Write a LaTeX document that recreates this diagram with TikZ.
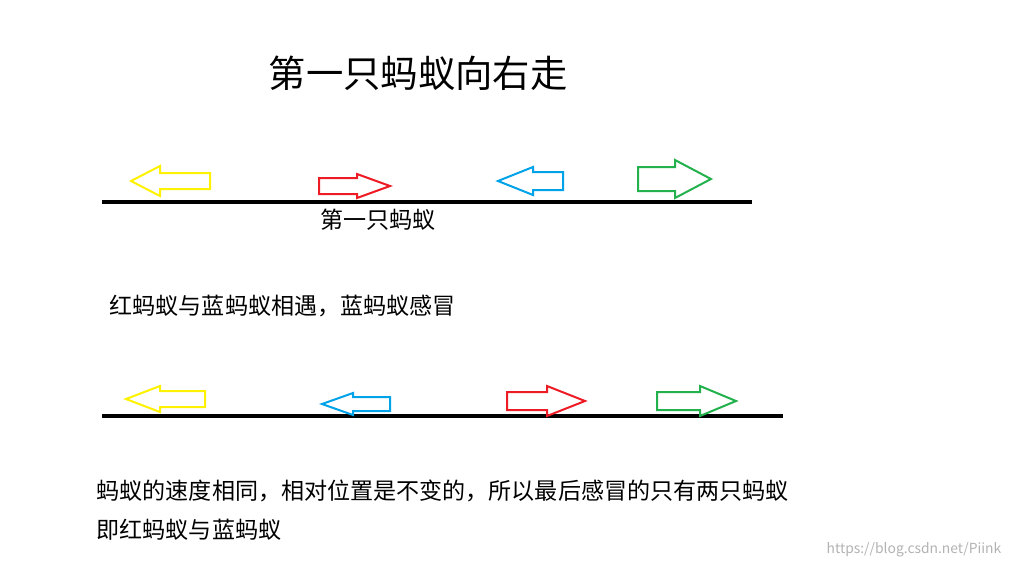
\documentclass[tikz,border=0pt]{standalone}
\usepackage{fontspec}
\setmainfont{Noto Sans CJK SC}
\definecolor{antyellow}{RGB}{255,242,0}
\definecolor{antred}{RGB}{237,28,36}
\definecolor{antblue}{RGB}{0,162,232}
\definecolor{antgreen}{RGB}{34,177,76}
\tikzset{antarrow/.style={line width=1.5pt,line join=miter}}
% block arrow: colour, tip x, mid y, neck x, tail x, body half, head half
\newcommand{\blockarrow}[7]{%
  \draw[antarrow,#1] (#2,#3) -- (#4,#3-#7) -- (#4,#3-#6) -- (#5,#3-#6)
    -- (#5,#3+#6) -- (#4,#3+#6) -- (#4,#3+#7) -- cycle;}
\begin{document}
\begin{tikzpicture}[x=0.75pt,y=-0.75pt]
\useasboundingbox (0,0) rectangle (1016,569);

\node[font=\fontsize{28}{30}\selectfont] (title) at (418,73) {第一只蚂蚁向右走};

% first line
\draw[line width=2.4pt] (102,202) -- (752,202);
\blockarrow{antyellow}{131}{181}{160}{210}{8}{15}
\blockarrow{antred}{390}{186}{357}{319}{8}{12}
\blockarrow{antblue}{498}{181}{533}{563}{9}{14}
\blockarrow{antgreen}{711}{179}{675}{638}{12}{19}
\node[font=\fontsize{17.3}{19}\selectfont] (first) at (378,220) {第一只蚂蚁};

\node[anchor=west,font=\fontsize{17.3}{19}\selectfont] (meet) at (105,306) {红蚂蚁与蓝蚂蚁相遇，蓝蚂蚁感冒};

% second line
\draw[line width=2.4pt] (102,416) -- (783,416);
\blockarrow{antyellow}{126}{399}{160}{205}{8}{13}
\blockarrow{antblue}{322}{404}{353}{390}{7}{11}
\blockarrow{antred}{585}{401}{547}{507}{9}{15}
\blockarrow{antgreen}{736}{401}{700}{657}{9}{15}

\node[anchor=west,font=\fontsize{17.3}{19}\selectfont] (speed) at (92,491) {蚂蚁的速度相同，相对位置是不变的，所以最后感冒的只有两只蚂蚁};
\node[anchor=west,font=\fontsize{17.3}{19}\selectfont] (result) at (92,530) {即红蚂蚁与蓝蚂蚁};

\node[anchor=east,text=gray!60,font=\fontsize{10.4}{12}\selectfont] (mark) at (1006,550) {https://blog.csdn.net/Piink};
\end{tikzpicture}
\end{document}
